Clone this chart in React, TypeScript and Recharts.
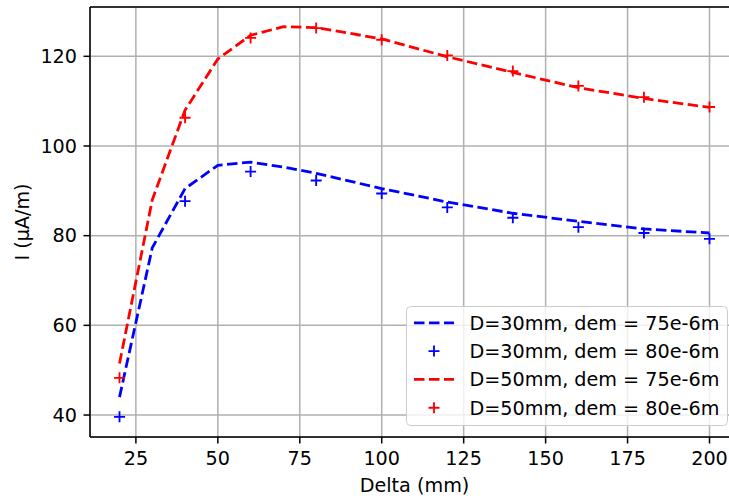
import React from 'react';
import { ComposedChart, Line, Scatter, XAxis, YAxis, CartesianGrid, ReferenceLine } from 'recharts';

// Delta (mm) where the dashed model curves have vertices
const deltaModel = [20, 30, 40, 50, 60, 70, 80, 100, 120, 140, 160, 180, 200];
const d30Model = [44.0, 77.3, 90.5, 95.7, 96.4, 95.3, 93.9, 90.5, 87.5, 85.0, 83.2, 81.5, 80.6];
const d50Model = [51.5, 88.0, 108.0, 119.4, 124.7, 126.6, 126.4, 123.9, 119.9, 116.4, 113.0, 110.6, 108.6];

// Delta (mm) of the '+' measurements
const deltaMeas = [20, 40, 60, 80, 100, 120, 140, 160, 180, 200];
const d30Meas = [39.6, 87.7, 94.3, 92.3, 89.4, 86.3, 84.0, 81.9, 80.6, 79.3];
const d50Meas = [48.3, 106.3, 124.1, 126.3, 123.7, 120.2, 116.7, 113.4, 110.9, 108.7];

const xTicks = [25, 50, 75, 100, 125, 150, 175, 200];
const yTicks = [40, 60, 80, 100, 120];

const legendItems = [
  { label: 'D=30mm, dem = 75e-6m', color: '#0000ff', kind: 'line' },
  { label: 'D=30mm, dem = 80e-6m', color: '#0000ff', kind: 'plus' },
  { label: 'D=50mm, dem = 75e-6m', color: '#ff0000', kind: 'line' },
  { label: 'D=50mm, dem = 80e-6m', color: '#ff0000', kind: 'plus' },
];

const FONT = '"DejaVu Sans", sans-serif';
const FS = 19.2;

const zip = (xs: number[], ys: number[]) => xs.map((x, i) => ({ x, y: ys[i] }));

const Plus = (color: string) => (props: any) => {
  const { cx, cy } = props;
  const r = 5.5;
  return (
    <path
      d={`M${cx - r},${cy}H${cx + r}M${cx},${cy - r}V${cy + r}`}
      stroke={color}
      strokeWidth={1.85}
      fill="none"
    />
  );
};

function LegendBox() {
  return (
    <svg width={322} height={120} style={{ position: 'absolute', left: 406, top: 306, display: 'block' }}>
      <rect x={0.5} y={0.5} width={321} height={119} rx={4} fill="rgba(255,255,255,0.8)" stroke="#cccccc" />
      {legendItems.map((it, i) => {
        const cy = 16.8 + i * 28.3;
        return (
          <g key={it.label}>
            {it.kind === 'line' ? (
              <line x1={8} x2={48} y1={cy} y2={cy} stroke={it.color} strokeWidth={2.8} strokeDasharray="10.5 4.5" />
            ) : (
              <path d={`M${28 - 5.5},${cy}H${28 + 5.5}M28,${cy - 5.5}V${cy + 5.5}`} stroke={it.color} strokeWidth={1.85} />
            )}
            <text x={63.5} y={cy + 6.8} fontSize={FS} fontFamily={FONT} fill="#000">
              {it.label}
            </text>
          </g>
        );
      })}
    </svg>
  );
}

export default function App() {
  const tickStyle = { fontSize: FS, fontFamily: FONT, fill: '#000' };
  return (
    <div style={{ position: 'absolute', left: 0, top: 0, width: 729, height: 499, overflow: 'hidden', background: '#fff' }}>
      <ComposedChart width={739} height={499} margin={{ top: 7, right: 0, bottom: 0, left: 0 }}>
        <CartesianGrid stroke="#b0b0b0" strokeWidth={1.5} />
        <XAxis
          type="number"
          dataKey="x"
          domain={[11, 209]}
          ticks={xTicks}
          allowDataOverflow
          height={62}
          tickSize={6.5}
          tickMargin={7.5}
          tick={tickStyle}
          stroke="#000"
          strokeWidth={1.5}
          tickLine={{ stroke: '#000', strokeWidth: 1.5 }}
          label={{ value: 'Delta (mm)', position: 'center', dy: 17, style: { fontSize: FS, fontFamily: FONT, fill: '#000' } }}
        />
        <YAxis
          type="number"
          dataKey="y"
          domain={[35.1, 131.0]}
          ticks={yTicks}
          allowDataOverflow
          width={90}
          tickSize={6.5}
          tickMargin={6.5}
          tick={tickStyle}
          stroke="#000"
          strokeWidth={1.5}
          tickLine={{ stroke: '#000', strokeWidth: 1.5 }}
          label={{ value: 'I (µA/m)', angle: -90, position: 'center', dx: -23, style: { fontSize: FS, fontFamily: FONT, fill: '#000', textAnchor: 'middle' } }}
        />
        <ReferenceLine y={131.0} stroke="#000" strokeWidth={1.5} />
        <Line
          data={zip(deltaModel, d30Model)}
          dataKey="y"
          type="linear"
          stroke="#0000ff"
          strokeWidth={2.8}
          strokeDasharray="10.5 4.5"
          dot={false}
          activeDot={false}
          isAnimationActive={false}
        />
        <Scatter data={zip(deltaMeas, d30Meas)} dataKey="y" shape={Plus('#0000ff')} isAnimationActive={false} />
        <Line
          data={zip(deltaModel, d50Model)}
          dataKey="y"
          type="linear"
          stroke="#ff0000"
          strokeWidth={2.8}
          strokeDasharray="10.5 4.5"
          dot={false}
          activeDot={false}
          isAnimationActive={false}
        />
        <Scatter data={zip(deltaMeas, d50Meas)} dataKey="y" shape={Plus('#ff0000')} isAnimationActive={false} />
      </ComposedChart>
      <LegendBox />
    </div>
  );
}
